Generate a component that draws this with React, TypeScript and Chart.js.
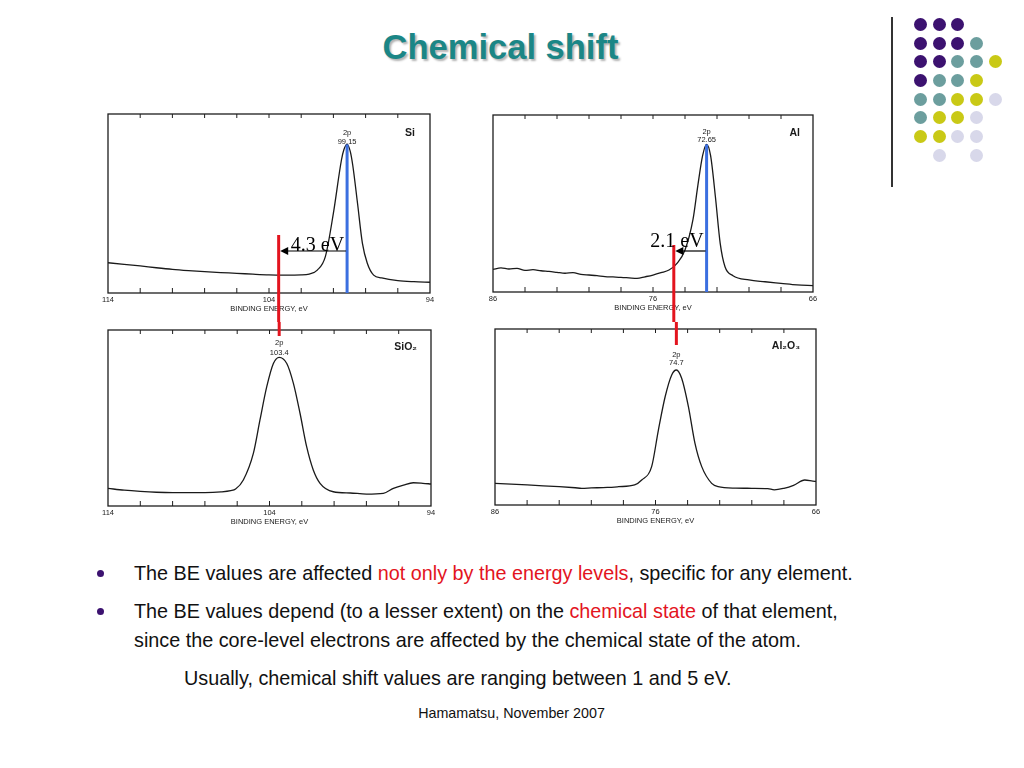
import React, { useEffect, useRef } from 'react'
import { Chart, registerables } from 'chart.js'

Chart.register(...registerables)

// Si 2p, elemental silicon (binding energy in eV, intensity in % of frame height)
const SI_ENERGY = [114, 113, 112, 111, 110, 109, 108, 107, 106, 105, 104, 103, 102, 101.5, 101, 100.5, 100, 99.5, 99.35, 99.15, 98.95, 98.8, 98.5, 98.2, 97.9, 97.5, 97, 96, 95, 94]
const SI_COUNTS = [16.9, 16.0, 15.1, 14.1, 13.2, 12.5, 11.9, 11.4, 11.0, 10.5, 10.1, 10.0, 10.1, 10.6, 12.8, 20.3, 44.6, 74.3, 80.0, 83.0, 79.0, 71.5, 50.0, 27.9, 16.8, 10.0, 8.4, 6.9, 6.3, 6.0]

// Al 2p, metallic aluminium
const AL_ENERGY = [86, 85.5, 85, 84.5, 84, 83.5, 83, 82.5, 82, 81.5, 81, 80.5, 80, 79.5, 79, 78.5, 78, 77.5, 77, 76.5, 76, 75.5, 75, 74.5, 74, 73.5, 73.2, 72.9, 72.65, 72.4, 72.1, 71.8, 71.5, 71, 70, 69, 68, 67, 66]
const AL_COUNTS = [12.8, 13.6, 13.0, 13.4, 12.2, 12.6, 12.0, 11.6, 11.1, 10.6, 10.9, 10.0, 9.6, 9.2, 8.7, 8.5, 8.3, 8.0, 7.7, 8.6, 9.6, 10.9, 12.4, 16.2, 23.7, 41.0, 60.0, 77.0, 83.4, 77.0, 53.8, 27.5, 14.3, 9.2, 6.8, 5.8, 4.9, 4.0, 3.6]

// Si 2p in SiO2
const SIO2_ENERGY = [114, 113, 112, 111, 110, 109, 108, 107, 106.4, 106.1, 105.62, 105.0, 104.59, 104.17, 103.76, 103.4, 102.93, 102.52, 102.11, 101.7, 101.29, 100.87, 100.05, 99, 98, 96.95, 96.33, 95.7, 95.1, 94.5, 94]
const SIO2_COUNTS = [10.0, 9.0, 8.3, 7.8, 7.6, 7.6, 7.6, 8.0, 8.7, 9.6, 14.8, 29.9, 48.9, 67.8, 81.0, 84.5, 81.0, 69.7, 52.7, 33.7, 20.5, 12.9, 8.1, 7.4, 6.8, 7.2, 10.0, 11.9, 13.2, 12.9, 12.5]

// Al 2p in Al2O3
const AL2O3_ENERGY = [86, 85, 84, 83, 82, 81, 80.6, 80, 79, 78.3, 77.3, 76.86, 76.24, 75.82, 75.4, 74.99, 74.7, 74.37, 73.95, 73.54, 73.12, 72.5, 72.1, 71, 70, 69, 68.6, 68, 67.4, 66.7, 66.2, 66]
const AL2O3_COUNTS = [12.3, 11.9, 11.4, 10.9, 10.4, 9.8, 9.5, 9.7, 10.0, 10.4, 11.4, 14.2, 21.8, 42.6, 61.5, 73.9, 76.7, 72.0, 55.9, 35.0, 21.8, 12.3, 10.4, 9.6, 9.5, 9.3, 8.6, 9.5, 11.2, 14.2, 13.6, 13.4]

const SI_RANGE = [94, 114]
const AL_RANGE = [66, 86]
const SI_TICK_LABELS = [114, 104, 94]
const AL_TICK_LABELS = [86, 76, 66]

const SI_PEAK = 99.15
const SIO2_PEAK = 103.4
const AL_PEAK = 72.65
const AL2O3_PEAK = 74.7

const BLUE = '#3b6fe0'
const RED = '#e3141e'
const SANS = '"Liberation Sans", Arial, sans-serif'
const SERIF = '"Liberation Serif", "Times New Roman", serif'

interface PanelSpec {
  energies: number[]
  counts: number[]
  range: number[]
  tickLabels: number[]
  element: string
  peak: number
  peakText: string
  peakCount: number
  frame: { left: number; top: number; width: number; height: number }
  pad: { left: number; right: number; top: number; bottom: number }
  labelY: [number, number]
  elementY: number
  elementInset: number
  blue: boolean
  red: { energy: number; upper: boolean; offset: number }
  shift?: { from: number; to: number; text: string; y: number; textDy: number }
}

function makeDecor(spec: PanelSpec) {
  return {
    id: 'xpsDecor',
    afterDatasetsDraw(chart: Chart) {
      const { ctx, chartArea: a } = chart
      const x = chart.scales.x
      const y = chart.scales.y
      const line = (x1: number, y1: number, x2: number, y2: number) => {
        ctx.beginPath()
        ctx.moveTo(x1, y1)
        ctx.lineTo(x2, y2)
        ctx.stroke()
      }
      ctx.save()
      // frame and inward ticks
      ctx.strokeStyle = '#1e1e1e'
      ctx.lineWidth = 1.3
      ctx.strokeRect(a.left, a.top, a.right - a.left, a.bottom - a.top)
      ctx.lineWidth = 1
      for (let e = spec.range[0] + 2; e < spec.range[1]; e += 2) {
        const px = x.getPixelForValue(e)
        line(px, a.bottom, px, a.bottom - 5)
        line(px, a.top, px, a.top + 4)
      }
      // axis labels
      ctx.fillStyle = '#1a1a1a'
      ctx.textAlign = 'center'
      ctx.textBaseline = 'middle'
      ctx.font = `7.5px ${SANS}`
      spec.tickLabels.forEach((t) => ctx.fillText(String(t), x.getPixelForValue(t), a.bottom + 6.5))
      ctx.fillText('BINDING ENERGY, eV', (a.left + a.right) / 2, a.bottom + 15.5)
      // peak labels
      const pk = x.getPixelForValue(spec.peak)
      ctx.fillText('2p', pk, a.top + spec.labelY[0])
      ctx.fillText(spec.peakText, pk, a.top + spec.labelY[1])
      ctx.font = `bold 10.5px ${SANS}`
      ctx.textAlign = 'right'
      ctx.fillText(spec.element, a.right - spec.elementInset, a.top + spec.elementY)
      // reference lines
      ctx.lineWidth = 3
      if (spec.blue) {
        ctx.strokeStyle = BLUE
        line(pk, y.getPixelForValue(spec.peakCount), pk, a.bottom)
      }
      ctx.strokeStyle = RED
      const rx = x.getPixelForValue(spec.red.energy)
      if (spec.red.upper) line(rx, a.top + spec.red.offset, rx, chart.height)
      else line(rx, 0, rx, a.top + spec.red.offset)
      // chemical shift arrow
      if (spec.shift) {
        const s = spec.shift
        const x1 = x.getPixelForValue(s.from)
        const x2 = x.getPixelForValue(s.to) + 1.5
        const ay = a.top + s.y
        ctx.strokeStyle = '#000'
        ctx.fillStyle = '#000'
        ctx.lineWidth = 1.2
        line(x1 - 1, ay, x2 + 6, ay)
        ctx.beginPath()
        ctx.moveTo(x2, ay)
        ctx.lineTo(x2 + 8, ay - 4)
        ctx.lineTo(x2 + 8, ay + 4)
        ctx.closePath()
        ctx.fill()
        ctx.font = `20px ${SERIF}`
        ctx.textAlign = 'right'
        ctx.textBaseline = 'alphabetic'
        ctx.fillText(s.text, x1 - 3, ay + s.textDy)
      }
      ctx.restore()
    },
  }
}

function Panel({ spec }: { spec: PanelSpec }) {
  const canvasRef = useRef<HTMLCanvasElement>(null)
  const chartRef = useRef<Chart | null>(null)

  useEffect(() => {
    if (!canvasRef.current) return
    if (chartRef.current) chartRef.current.destroy()
    chartRef.current = new Chart(canvasRef.current, {
      type: 'line',
      data: {
        datasets: [{
          data: spec.energies.map((e, i) => ({ x: e, y: spec.counts[i] })),
          borderColor: '#1a1a1a',
          borderWidth: 1.3,
          pointRadius: 0,
          cubicInterpolationMode: 'monotone',
          fill: false,
        }],
      },
      options: {
        animation: false,
        responsive: true,
        maintainAspectRatio: false,
        layout: { padding: spec.pad },
        plugins: { legend: { display: false }, tooltip: { enabled: false } },
        scales: {
          x: { type: 'linear', min: spec.range[0], max: spec.range[1], reverse: true, display: false },
          y: { min: 0, max: 100, display: false },
        },
      },
      plugins: [makeDecor(spec)],
    })
    return () => chartRef.current?.destroy()
  }, [spec])

  const f = spec.frame
  const p = spec.pad
  return (
    <div style={{
      position: 'absolute',
      left: f.left - p.left,
      top: f.top - p.top,
      width: f.width + p.left + p.right,
      height: f.height + p.top + p.bottom,
    }}>
      <canvas ref={canvasRef} />
    </div>
  )
}

const PANELS: PanelSpec[] = [
  {
    energies: SI_ENERGY, counts: SI_COUNTS, range: SI_RANGE, tickLabels: SI_TICK_LABELS,
    element: 'Si', peak: SI_PEAK, peakText: '99.15', peakCount: 83.0,
    frame: { left: 108, top: 114, width: 322, height: 179 },
    pad: { left: 12, right: 12, top: 10, bottom: 29 },
    labelY: [19, 27.5], elementY: 19, elementInset: 15, blue: true,
    red: { energy: SIO2_PEAK, upper: true, offset: 121 },
    shift: { from: SI_PEAK, to: SIO2_PEAK, text: '4.3 eV', y: 137, textDy: 0 },
  },
  {
    energies: AL_ENERGY, counts: AL_COUNTS, range: AL_RANGE, tickLabels: AL_TICK_LABELS,
    element: 'Al', peak: AL_PEAK, peakText: '72.65', peakCount: 83.4,
    frame: { left: 493, top: 115, width: 320, height: 177 },
    pad: { left: 12, right: 12, top: 10, bottom: 30 },
    labelY: [17, 24.5], elementY: 18, elementInset: 13, blue: true,
    red: { energy: AL2O3_PEAK, upper: true, offset: 130 },
    shift: { from: AL_PEAK, to: AL2O3_PEAK, text: '2.1 eV', y: 136, textDy: -4 },
  },
  {
    energies: SIO2_ENERGY, counts: SIO2_COUNTS, range: SI_RANGE, tickLabels: SI_TICK_LABELS,
    element: 'SiO\u2082', peak: SIO2_PEAK, peakText: '103.4', peakCount: 84.5,
    frame: { left: 108, top: 330, width: 323, height: 176 },
    pad: { left: 12, right: 12, top: 8, bottom: 24 },
    labelY: [13, 22.5], elementY: 17.5, elementInset: 14, blue: false,
    red: { energy: SIO2_PEAK, upper: false, offset: 6 },
  },
  {
    energies: AL2O3_ENERGY, counts: AL2O3_COUNTS, range: AL_RANGE, tickLabels: AL_TICK_LABELS,
    element: 'Al\u2082O\u2083', peak: AL2O3_PEAK, peakText: '74.7', peakCount: 76.7,
    frame: { left: 495, top: 329, width: 321, height: 176 },
    pad: { left: 12, right: 12, top: 7, bottom: 25 },
    labelY: [26, 34], elementY: 17, elementInset: 16, blue: false,
    red: { energy: AL2O3_PEAK, upper: false, offset: 16 },
  },
]

const PURPLE = '#3c1270'
const TEAL = '#6c9e9e'
const YELLOW = '#c9c916'
const LAVENDER = '#d8d8ea'
const DOT_COLS = [920, 939, 957, 976, 995]
const DOT_ROWS = [24, 43, 61, 80, 99, 117, 136, 155]
const DOT_COLORS = [
  [PURPLE, PURPLE, PURPLE, null, null],
  [PURPLE, PURPLE, PURPLE, TEAL, null],
  [PURPLE, PURPLE, TEAL, TEAL, YELLOW],
  [PURPLE, TEAL, TEAL, YELLOW, null],
  [TEAL, TEAL, YELLOW, YELLOW, LAVENDER],
  [TEAL, YELLOW, YELLOW, LAVENDER, null],
  [YELLOW, YELLOW, LAVENDER, LAVENDER, null],
  [null, LAVENDER, null, LAVENDER, null],
]

const bodyText: React.CSSProperties = {
  position: 'absolute',
  fontFamily: SANS,
  fontSize: 19.8,
  lineHeight: 'normal',
  color: '#111',
  whiteSpace: 'nowrap',
}

const red: React.CSSProperties = { color: RED }

export default function App() {
  return (
    <div style={{ position: 'absolute', left: 0, top: 0, width: 1024, height: 768, background: '#fff', overflow: 'hidden' }}>
      <div style={{
        position: 'absolute', left: 0, top: 28, width: 1001, textAlign: 'center',
        fontFamily: SANS, fontWeight: 'bold', fontSize: 34.5, lineHeight: 'normal',
        color: '#1b8686', textShadow: '2px 2px 2px rgba(0,0,0,0.3)',
      }}>
        Chemical shift
      </div>

      <div style={{ position: 'absolute', left: 891, top: 17, width: 1.5, height: 170, background: '#333' }} />
      {DOT_COLORS.map((row, r) => row.map((c, k) => c && (
        <div key={`${r}-${k}`} style={{
          position: 'absolute', left: DOT_COLS[k] - 6.5, top: DOT_ROWS[r] - 6.5,
          width: 13, height: 13, borderRadius: '50%', background: c,
        }} />
      )))}

      {PANELS.map((spec, i) => <Panel key={i} spec={spec} />)}

      <div style={{ position: 'absolute', left: 96.5, top: 570, width: 7, height: 7, borderRadius: '50%', background: PURPLE }} />
      <div style={{ position: 'absolute', left: 96.5, top: 608, width: 7, height: 7, borderRadius: '50%', background: PURPLE }} />
      <div style={{ ...bodyText, left: 134, top: 562 }}>
        The BE values are affected <span style={red}>not only by the energy levels</span>, specific for any element.
      </div>
      <div style={{ ...bodyText, left: 134, top: 600 }}>
        The BE values depend (to a lesser extent) on the <span style={red}>chemical state</span> of that element,
      </div>
      <div style={{ ...bodyText, left: 134, top: 629 }}>
        since the core-level electrons are affected by the chemical state of the atom.
      </div>
      <div style={{ ...bodyText, left: 184, top: 667 }}>
        Usually, chemical shift values are ranging between 1 and 5 eV.
      </div>
      <div style={{ ...bodyText, left: 0, top: 705, width: 1023, textAlign: 'center', fontSize: 14.3 }}>
        Hamamatsu, November 2007
      </div>
    </div>
  )
}
